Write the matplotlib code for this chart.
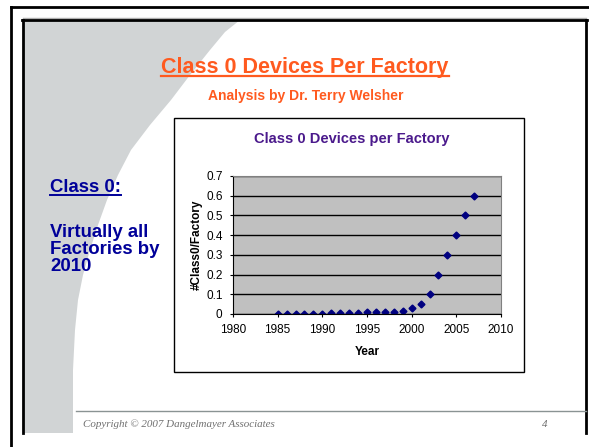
import matplotlib.pyplot as plt
from matplotlib.patches import Polygon, Rectangle
from matplotlib.lines import Line2D

# data
years = list(range(1985, 2008))
devices = [0, 0, 0, 0, 0, 0, 0.005, 0.005, 0.005, 0.005, 0.01, 0.01, 0.01, 0.01,
           0.017, 0.03, 0.05, 0.1, 0.2, 0.3, 0.4, 0.5, 0.6]
x_ticks = [1980, 1985, 1990, 1995, 2000, 2005, 2010]
y_ticks = [0, 0.1, 0.2, 0.3, 0.4, 0.5, 0.6, 0.7]
side_lines = ['Virtually all', 'Factories by', '2010']

W, H = 589, 447
plt.rcParams['font.family'] = ['Liberation Sans', 'DejaVu Sans']
fig = plt.figure(figsize=(W / 100, H / 100), dpi=100)


def fx(x):
    return x / W


def fy(y):
    return 1 - y / H


def px_line(x0, y0, x1, y1, **kw):
    fig.add_artist(Line2D([fx(x0), fx(x1)], [fy(y0), fy(y1)], transform=fig.transFigure, **kw))


# slide background: grey swoosh on the left
swoosh = [(24, 20), (240, 20), (225, 32), (210, 50), (190, 75), (171, 100), (150, 125),
          (131, 150), (118, 175), (107, 200), (98, 225), (90, 250), (83, 275), (78, 300),
          (75, 330), (73, 370), (73, 433), (24, 433)]
fig.add_artist(Polygon([(fx(a), fy(b)) for a, b in swoosh], closed=True,
                       transform=fig.transFigure, facecolor='#d1d4d5', edgecolor='none', zorder=0))

# slide frames
px_line(11, 7, 589, 7, color='black', lw=2)
px_line(11, 7, 11, 447, color='black', lw=2)
px_line(23, 18, 586, 18, color='#b0b0b0', lw=1)
px_line(22, 20, 587, 20, color='black', lw=2)
px_line(23, 20, 23, 433, color='black', lw=2)
px_line(586, 20, 586, 433, color='black', lw=2)
px_line(76, 411, 586, 411, color='#8a9393', lw=1)

# titles
orange = '#ff5a1f'
navy = '#000099'
title = fig.text(fx(305), fy(73), 'Class 0 Devices Per Factory', ha='center', va='baseline',
                 fontsize=15.5, fontweight='bold', color=orange)
fig.text(fx(306), fy(100), 'Analysis by Dr. Terry Welsher', ha='center', va='baseline',
         fontsize=10, fontweight='bold', color=orange)

left = fig.text(fx(50), fy(192), 'Class 0:', ha='left', va='baseline',
                fontsize=13.4, fontweight='bold', color=navy)
for i, line in enumerate(side_lines):
    fig.text(fx(50), fy(237 + 17 * i), line, ha='left', va='baseline',
             fontsize=13.4, fontweight='bold', color=navy)

fig.text(fx(83), fy(427), 'Copyright \u00a9 2007 Dangelmayer Associates', ha='left', va='baseline',
         fontsize=7.9, style='italic', family='Liberation Serif', color='#707070')
fig.text(fx(542), fy(427), '4', ha='left', va='baseline',
         fontsize=7.9, style='italic', family='Liberation Serif', color='#707070')

# chart box
fig.add_artist(Rectangle((fx(174), fy(372)), fx(524) - fx(174), fy(118) - fy(372),
                         transform=fig.transFigure, facecolor='white', edgecolor='black',
                         lw=1, zorder=1))
fig.text(fx(352), fy(143), 'Class 0 Devices per Factory', ha='center', va='baseline',
         fontsize=10.5, fontweight='bold', color='#4b1a8c', zorder=3)

ax = fig.add_axes([fx(233), fy(314), fx(501) - fx(233), fy(176) - fy(314)])
ax.set_zorder(2)
ax.set_facecolor('#c0c0c0')
ax.plot(years, devices, linestyle='none', marker='D', markersize=3.5, color='#000080')
ax.set_xlim(1980, 2010)
ax.set_ylim(0, 0.7)
ax.set_xticks(x_ticks)
ax.set_yticks(y_ticks)
ax.set_yticklabels([f'{v:g}' for v in y_ticks])
ax.yaxis.grid(True, color='black', lw=1)
ax.set_axisbelow(True)
for s in ['top', 'right']:
    ax.spines[s].set_color('#808080')
for s in ['left', 'bottom']:
    ax.spines[s].set_color('black')
ax.tick_params(direction='out', length=2.5, labelsize=8.5, pad=5, colors='black')
ax.set_xlabel('Year', fontsize=8.5, fontweight='bold', labelpad=7)
ax.set_ylabel('#Class0/Factory', fontsize=8.5, fontweight='bold', labelpad=2.5)

# underlines, 3 px under the baseline
fig.canvas.draw()
r = fig.canvas.get_renderer()
inv = fig.transFigure.inverted()
for t, c, lw, base in [(title, orange, 1.6, 73), (left, navy, 1.4, 192)]:
    bb = t.get_window_extent(r).transformed(inv)
    fig.add_artist(Line2D([bb.x0, bb.x1], [fy(base + 3), fy(base + 3)],
                          transform=fig.transFigure, color=c, lw=lw))

fig.savefig('out.png', dpi=100)
